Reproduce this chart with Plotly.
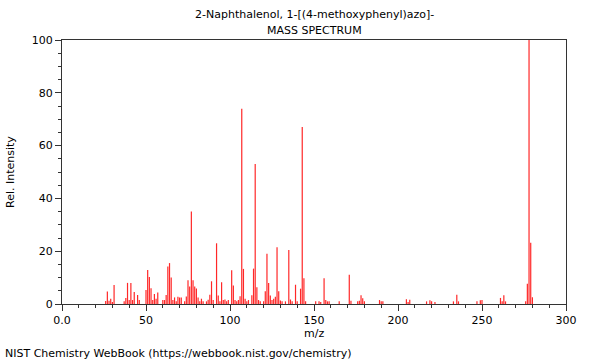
import plotly.graph_objects as go

mz = [26, 27, 28, 29, 30, 31, 37, 38, 39, 40, 41, 42, 43, 45, 46,
      50, 51, 52, 53, 54, 55, 56, 57, 60, 61, 62, 63, 64, 65, 66, 67, 68, 69, 70, 71, 73, 74,
      75, 76, 77, 78, 79, 80, 81, 82, 83, 84, 86, 87, 88, 89, 90, 92, 93, 94, 95, 96, 97, 98, 99,
      101, 102, 103, 104, 105, 106, 107, 108, 109, 110, 111, 113, 114, 115, 116, 117, 118, 120,
      121, 122, 123, 124, 125, 126, 127, 128, 129, 130, 131, 133, 135, 136, 137, 139, 140,
      142, 143, 144, 145, 151, 153, 154, 156, 157, 158, 159, 165, 171, 172, 176, 177, 178, 179, 180,
      189, 190, 191, 205, 206, 207, 217, 219, 220, 222, 233, 235, 236, 247, 249, 250,
      261, 262, 263, 264, 276, 277, 278, 279, 280]
intensity = [1.1, 4.7, 1.2, 2.0, 0.8, 7.2, 1.0, 2.3, 8.0, 1.5, 8.0, 1.5, 4.5, 3.4, 1.5,
             5.3, 12.9, 10.2, 6.0, 1.5, 3.8, 2.0, 4.4, 1.5, 1.5, 3.4, 14.2, 15.5, 10.0, 1.5, 2.5, 1.0, 2.7, 2.5, 2.5, 1.0, 2.8,
             9.0, 6.6, 35.0, 9.0, 6.6, 5.9, 2.5, 1.0, 2.0, 1.0, 1.0, 1.6, 3.5, 8.6, 1.5, 23.0, 3.2, 1.0, 8.2, 1.5, 1.7, 1.0, 1.5,
             12.8, 7.0, 1.5, 1.0, 1.5, 2.9, 74.0, 13.3, 2.0, 1.0, 1.5, 3.3, 13.4, 53.0, 6.3, 1.5, 1.0, 1.0,
             4.8, 19.0, 8.0, 3.2, 1.5, 2.0, 2.7, 21.5, 4.8, 1.3, 1.0, 1.0, 20.5, 1.7, 1.0, 7.3, 1.0,
             5.8, 67.0, 9.8, 1.0, 1.0, 1.0, 0.8, 9.8, 1.5, 1.0, 1.0, 1.0, 11.1, 1.2, 1.0, 1.2, 3.3, 2.2, 1.0,
             1.5, 1.0, 1.0, 1.8, 0.8, 1.6, 1.0, 1.4, 1.0, 0.8, 1.0, 3.5, 1.0, 1.0, 1.4, 1.5,
             2.3, 1.0, 3.3, 1.0, 1.0, 7.7, 100.0, 23.2, 2.6]

x_ticks = [0, 50, 100, 150, 200, 250, 300]
x_ticktext = ["0.0", "50", "100", "150", "200", "250", "300"]
y_ticks = [0, 20, 40, 60, 80, 100]

title_line1 = "2-Naphthalenol, 1-[(4-methoxyphenyl)azo]-"
title_line2 = "MASS SPECTRUM"
footer = "NIST Chemistry WebBook (https://webbook.nist.gov/chemistry)"

xs, ys = [], []
for m, v in zip(mz, intensity):
    xs += [m, m, None]
    ys += [0, v, None]

fig = go.Figure()
fig.add_trace(go.Scatter(x=xs, y=ys, mode="lines",
                         line=dict(color="rgb(255,40,40)", width=1.2),
                         hoverinfo="skip", showlegend=False))

font = dict(family="DejaVu Sans", size=11, color="black")

fig.update_layout(
    width=600, height=360,
    margin=dict(l=62, r=34, t=40, b=56),
    paper_bgcolor="white", plot_bgcolor="white",
    font=font,
    showlegend=False,
    annotations=[
        dict(text=title_line1, xref="paper", yref="paper", x=0.5, y=1, yshift=26,
             xanchor="center", yanchor="middle", showarrow=False, font=font),
        dict(text=title_line2, xref="paper", yref="paper", x=0.5, y=1, yshift=10,
             xanchor="center", yanchor="middle", showarrow=False, font=font),
        dict(text=footer, xref="paper", yref="paper", x=0, xshift=-59, y=0, yshift=-49,
             xanchor="left", yanchor="middle", showarrow=False, font=font),
        dict(text="m/z", xref="paper", yref="paper", x=0.5, y=0, yshift=-29,
             xanchor="center", yanchor="middle", showarrow=False, font=font),
        dict(text="Rel. Intensity", xref="paper", yref="paper", x=0, xshift=-52, y=0.5,
             xanchor="center", yanchor="middle", textangle=-90, showarrow=False, font=font),
    ],
)

fig.update_xaxes(
    range=[0, 300], tickmode="array", tickvals=x_ticks, ticktext=x_ticktext,
    ticks="outside", ticklen=6, tickcolor="#333", tickwidth=1,
    showline=True, linecolor="#333", linewidth=1, mirror=True,
    showgrid=False, zeroline=False,
    minor=dict(dtick=10, tick0=0, ticks="outside", ticklen=3, tickcolor="#333", showgrid=False),
    tickfont=font,
)
fig.update_yaxes(
    range=[0, 100], tickmode="array", tickvals=y_ticks,
    ticks="outside", ticklen=6, tickcolor="#333", tickwidth=1,
    showline=True, linecolor="#333", linewidth=1, mirror=True,
    showgrid=False, zeroline=False,
    minor=dict(dtick=5, tick0=0, ticks="outside", ticklen=3, tickcolor="#333", showgrid=False),
    tickfont=font,
)

fig.write_html("out.html", config={"displayModeBar": False, "staticPlot": True},
               post_script="document.body.style.margin='0';")
